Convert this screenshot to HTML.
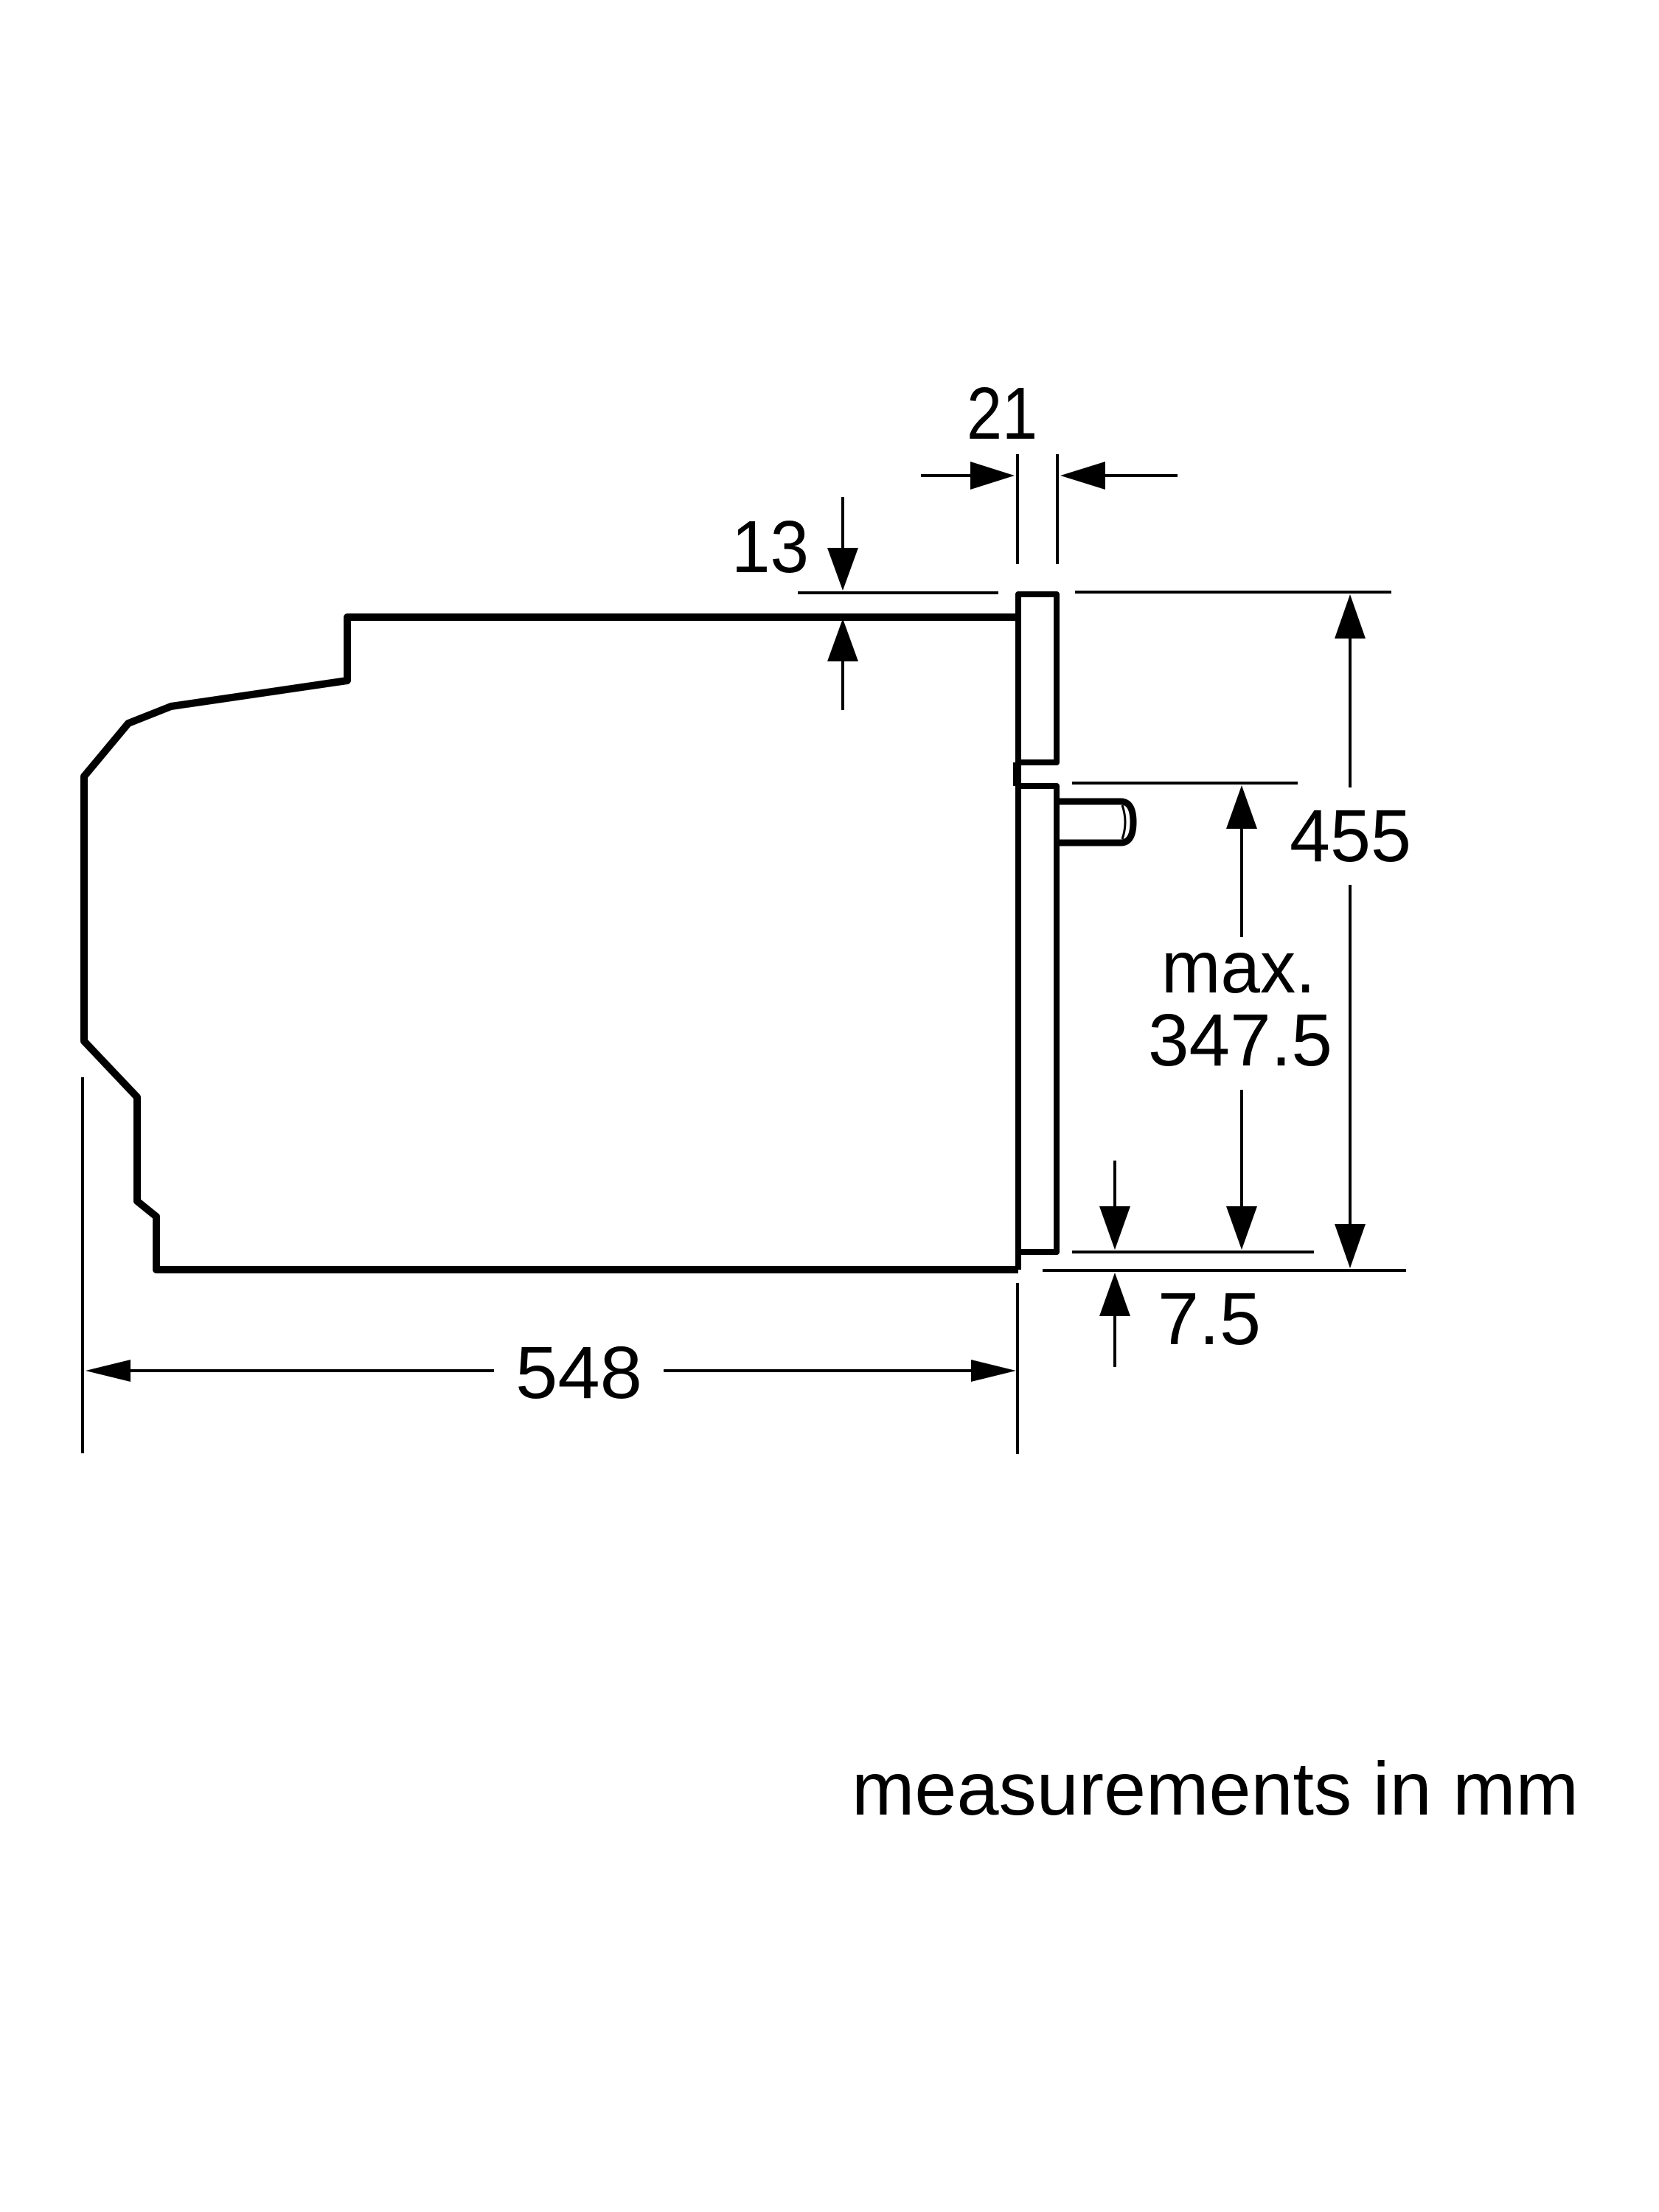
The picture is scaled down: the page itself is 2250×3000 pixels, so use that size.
<!DOCTYPE html>
<html><head><meta charset="utf-8"><style>html,body{margin:0;padding:0;background:#fff}svg{display:block}</style></head>
<body>
<svg width="2250" height="3000" viewBox="0 0 2250 3000" xmlns="http://www.w3.org/2000/svg">
<rect width="2250" height="3000" fill="#fff"/>
<g fill="none" stroke="#000" stroke-linejoin="round">
<polyline stroke-width="10" points="1381,837 471,837 471,923 232,958 174,981 114,1053 114,1412 186,1488 186,1629 212,1650 212,1722 1381,1722"/>
<path stroke-width="8" d="M1381,1722 L1381,806 L1433,806 L1433,1034 L1381,1034 M1378,1034 L1378,1066 M1381,1066 L1433,1066 L1433,1698 L1381,1698"/>
<path stroke-width="9" d="M1435,1087 L1520,1087 Q1537,1087 1537,1115 Q1537,1143 1520,1143 L1435,1143"/>
<path stroke-width="3" d="M1522,1092 Q1530,1115 1522,1138"/>
</g>
<g stroke="#000" stroke-width="4" fill="none">
<line x1="1249" y1="645" x2="1330" y2="645"/>
<line x1="1480" y1="645" x2="1597" y2="645"/>
<line x1="1380" y1="616" x2="1380" y2="765"/>
<line x1="1434" y1="616" x2="1434" y2="765"/>
<line x1="1082" y1="804" x2="1354" y2="804"/>
<line x1="1143" y1="674" x2="1143" y2="760"/>
<line x1="1143" y1="870" x2="1143" y2="963"/>
<line x1="1458" y1="803" x2="1887" y2="803"/>
<line x1="1831" y1="850" x2="1831" y2="1068"/>
<line x1="1831" y1="1200" x2="1831" y2="1680"/>
<line x1="1414" y1="1723" x2="1907" y2="1723"/>
<line x1="1454" y1="1062" x2="1760" y2="1062"/>
<line x1="1684" y1="1100" x2="1684" y2="1271"/>
<line x1="1684" y1="1478" x2="1684" y2="1650"/>
<line x1="1454" y1="1698" x2="1782" y2="1698"/>
<line x1="1512" y1="1574" x2="1512" y2="1650"/>
<line x1="1512" y1="1770" x2="1512" y2="1854"/>
<line x1="112" y1="1461" x2="112" y2="1971"/>
<line x1="1380" y1="1740" x2="1380" y2="1972"/>
<line x1="160" y1="1859" x2="670" y2="1859"/>
<line x1="900" y1="1859" x2="1340" y2="1859"/>
</g>
<g fill="#000">
<polygon points="1376,645 1316,626 1316,664"/>
<polygon points="1438,645 1499,626 1499,664"/>
<polygon points="1143,801 1122,743 1164,743"/>
<polygon points="1143,839 1122,897 1164,897"/>
<polygon points="1831,806 1810,866 1852,866"/>
<polygon points="1831,1720 1810,1660 1852,1660"/>
<polygon points="1684,1065 1663,1124 1705,1124"/>
<polygon points="1684,1695 1663,1636 1705,1636"/>
<polygon points="1512,1695 1491,1636 1533,1636"/>
<polygon points="1512,1726 1491,1785 1533,1785"/>
<polygon points="116,1859 177,1844 177,1874"/>
<polygon points="1378,1859 1317,1844 1317,1874"/>
</g>
<g font-family="'Liberation Sans', sans-serif" font-size="100" fill="#000">
<text x="1311" y="595" textLength="96" lengthAdjust="spacingAndGlyphs">21</text>
<text x="992" y="776" textLength="105" lengthAdjust="spacingAndGlyphs">13</text>
<text x="1749" y="1168" textLength="165" lengthAdjust="spacingAndGlyphs">455</text>
<text x="1575" y="1346" textLength="209" lengthAdjust="spacingAndGlyphs">max.</text>
<text x="1557" y="1445" textLength="250" lengthAdjust="spacingAndGlyphs">347.5</text>
<text x="699" y="1896" textLength="172" lengthAdjust="spacingAndGlyphs">548</text>
<text x="1570" y="1823" textLength="140" lengthAdjust="spacingAndGlyphs">7.5</text>
<text x="1155" y="2461" font-size="102" textLength="986" lengthAdjust="spacingAndGlyphs">measurements in mm</text>
</g>
</svg>
</body></html>
